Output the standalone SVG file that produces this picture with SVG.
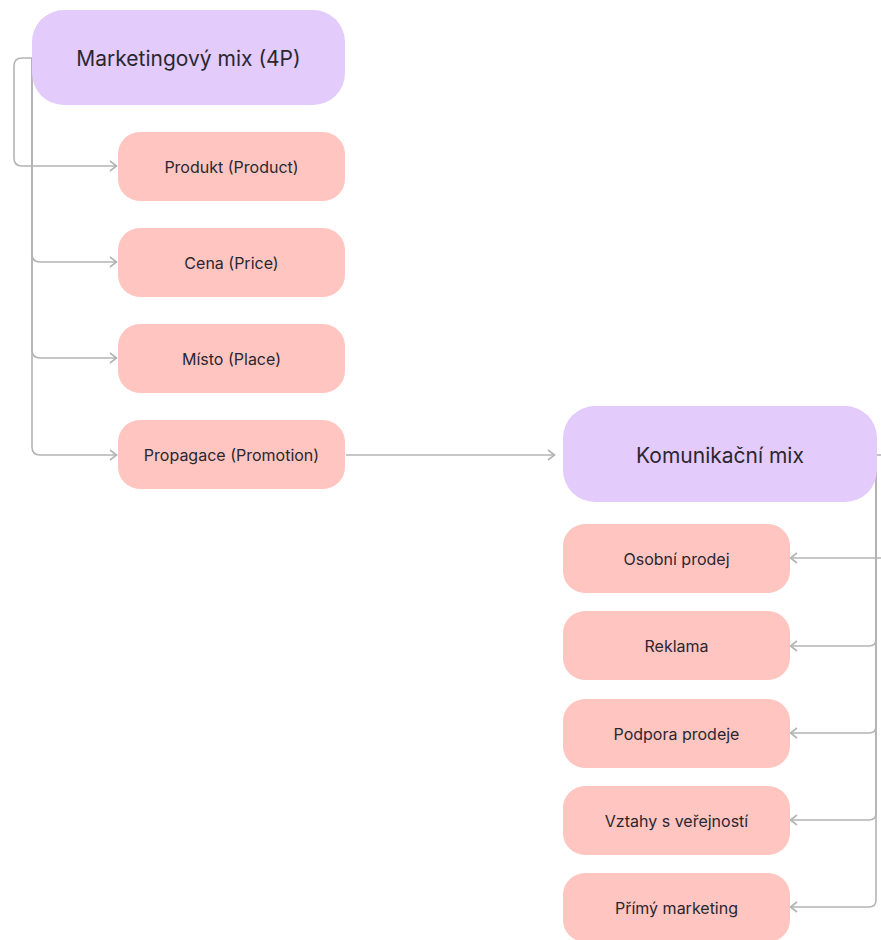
<svg xmlns="http://www.w3.org/2000/svg" width="881" height="940" viewBox="0 0 881 940">
  <style>
    .root rect { fill: #E3CBFC; }
    .leaf rect { fill: #FFC5C0; }
    text { font-family: Inter, "Noto Sans", "Liberation Sans", sans-serif; fill: #2B2730; text-anchor: middle; dominant-baseline: central; }
    .root text { font-size: 21px; }
    .leaf text { font-size: 16px; }
    .edge { fill: none; stroke: #B4B4B4; stroke-width: 1.6; }
  </style>
  <defs>
    <marker id="arr" viewBox="0 0 10 12" refX="9" refY="6" markerWidth="10" markerHeight="12" markerUnits="userSpaceOnUse" orient="auto">
      <path d="M2,1 L8.5,6 L2,11" fill="none" stroke="#B4B4B4" stroke-width="1.6"/>
    </marker>
  </defs>

  <g id="connectors">
    <!-- Marketingový mix to its four P's -->
    <path class="edge" d="M32,58 H22 Q14,58 14,66 V158 Q14,166 22,166 H117" marker-end="url(#arr)"/>
    <path class="edge" d="M32,58 V254 Q32,262 40,262 H117" marker-end="url(#arr)"/>
    <path class="edge" d="M32,58 V350 Q32,358 40,358 H117" marker-end="url(#arr)"/>
    <path class="edge" d="M32,58 V447 Q32,455 40,455 H117" marker-end="url(#arr)"/>
    <!-- Propagace to Komunikační mix -->
    <path class="edge" d="M346,455 H555" marker-end="url(#arr)"/>
    <!-- Komunikační mix to its five tools -->
    <path class="edge" d="M876,455 H881"/>
    <path class="edge" d="M881,558 H790" marker-end="url(#arr)"/>
    <path class="edge" d="M876,455 V639 Q876,646 869,646 H790" marker-end="url(#arr)"/>
    <path class="edge" d="M876,455 V726 Q876,733 869,733 H790" marker-end="url(#arr)"/>
    <path class="edge" d="M876,455 V813 Q876,820 869,820 H790" marker-end="url(#arr)"/>
    <path class="edge" d="M876,455 V900 Q876,907 869,907 H790" marker-end="url(#arr)"/>
  </g>

  <g id="marketingovy-mix" class="root">
    <rect x="32" y="10" width="313" height="95" rx="32"/>
    <text x="188.5" y="58">Marketingový mix (4P)</text>
  </g>
  <g id="produkt" class="leaf">
    <rect x="118" y="132" width="227" height="69" rx="22"/>
    <text x="231.5" y="166.5">Produkt (Product)</text>
  </g>
  <g id="cena" class="leaf">
    <rect x="118" y="228" width="227" height="69" rx="22"/>
    <text x="231.5" y="262.5">Cena (Price)</text>
  </g>
  <g id="misto" class="leaf">
    <rect x="118" y="324" width="227" height="69" rx="22"/>
    <text x="231.5" y="358.5">Místo (Place)</text>
  </g>
  <g id="propagace" class="leaf">
    <rect x="118" y="420" width="227" height="69" rx="22"/>
    <text x="231.5" y="454.5">Propagace (Promotion)</text>
  </g>

  <g id="komunikacni-mix" class="root">
    <rect x="563" y="406" width="314" height="96" rx="32"/>
    <text x="720" y="455">Komunikační mix</text>
  </g>
  <g id="osobni-prodej" class="leaf">
    <rect x="563" y="524" width="227" height="69" rx="22"/>
    <text x="676.5" y="558.5">Osobní prodej</text>
  </g>
  <g id="reklama" class="leaf">
    <rect x="563" y="611" width="227" height="69" rx="22"/>
    <text x="676.5" y="645.5">Reklama</text>
  </g>
  <g id="podpora-prodeje" class="leaf">
    <rect x="563" y="699" width="227" height="69" rx="22"/>
    <text x="676.5" y="733.5">Podpora prodeje</text>
  </g>
  <g id="vztahy-s-verejnosti" class="leaf">
    <rect x="563" y="786" width="227" height="69" rx="22"/>
    <text x="676.5" y="820.5">Vztahy s veřejností</text>
  </g>
  <g id="primy-marketing" class="leaf">
    <rect x="563" y="873" width="227" height="69" rx="22"/>
    <text x="676.5" y="907.5">Přímý marketing</text>
  </g>
</svg>
